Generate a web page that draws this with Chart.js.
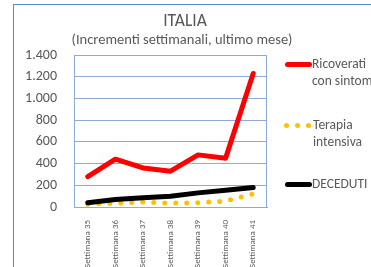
<!DOCTYPE html>
<html>
<head>
<meta charset="utf-8">
<script src="https://cdn.jsdelivr.net/npm/chart.js@4/dist/chart.umd.min.js"></script>
<style>
  html, body { margin: 0; padding: 0; background: #fff; overflow: hidden; }
  #wrap { position: relative; width: 371px; height: 267px; overflow: hidden; font-family: Carlito, Lato, sans-serif; color: #595959; }
  #frame { position: absolute; left: 13px; top: 4px; width: 400px; height: 300px; border-left: 1px solid #5b83d0; border-top: 1px solid #5b83d0; }
  canvas { position: absolute; left: 0; top: 0; }
  .txt { position: absolute; white-space: nowrap; }
  #title { left: 0; width: 370px; text-align: center; top: 9px; font-size: 17.5px; line-height: 22px; }
  #subtitle { left: 0; width: 364px; text-align: center; top: 30px; font-size: 14.5px; line-height: 18px; }
  .leg { position: absolute; left: 312px; font-size: 13.5px; line-height: 17px; white-space: nowrap; }
  .bar { position: absolute; height: 5px; border-radius: 3px; }
  .dot { position: absolute; width: 5px; height: 5px; border-radius: 50%; background: #ffc000; }
</style>
</head>
<body>
<div id="wrap">
  <div id="frame"></div>
  <canvas id="chart" width="371" height="267"></canvas>
  <div id="title" class="txt">ITALIA</div>
  <div id="subtitle" class="txt">(Incrementi settimanali, ultimo mese)</div>

  <div class="bar" style="left:285px; top:62px; width:27px; background:#ff0000;"></div>
  <div class="leg" style="top:55px;">Ricoverati<br>con sintomi</div>

  <div class="dot" style="left:284px; top:123px;"></div>
  <div class="dot" style="left:295px; top:123px;"></div>
  <div class="dot" style="left:306px; top:123px;"></div>
  <div class="leg" style="top:116px; left:313px;">Terapia<br>intensiva</div>

  <div class="bar" style="left:285px; top:182px; width:27px; background:#000000;"></div>
  <div class="leg" style="top:175px;">DECEDUTI</div>
</div>
<script>
const weeks = ['Settimana 35', 'Settimana 36', 'Settimana 37', 'Settimana 38', 'Settimana 39', 'Settimana 40', 'Settimana 41'];
const ricoverati = [280, 440, 360, 330, 480, 450, 1230];
const terapiaIntensiva = [25, 35, 45, 35, 40, 55, 120];
const deceduti = [40, 70, 85, 100, 130, 155, 180];
const yTicks = [0, 200, 400, 600, 800, 1000, 1200, 1400];

const gridBlue = '#8eaadb';
const textGrey = '#595959';

// plot frame (left and right border of the plot area)
const plotFrame = {
  id: 'plotFrame',
  beforeDatasetsDraw(chart) {
    const a = chart.chartArea;
    const ctx = chart.ctx;
    ctx.save();
    ctx.strokeStyle = gridBlue;
    ctx.lineWidth = 1;
    ctx.beginPath();
    ctx.moveTo(Math.round(a.left) + 0.5, a.top);
    ctx.lineTo(Math.round(a.left) + 0.5, a.bottom);
    ctx.moveTo(Math.round(a.right) - 0.5, a.top);
    ctx.lineTo(Math.round(a.right) - 0.5, a.bottom);
    ctx.stroke();
    ctx.restore();
  }
};

function formatIt(v) {
  return String(v).replace(/\B(?=(\d{3})+(?!\d))/g, '.');
}

new Chart(document.getElementById('chart'), {
  type: 'line',
  data: {
    labels: weeks,
    datasets: [{
      label: 'Ricoverati con sintomi',
      data: ricoverati,
      borderColor: '#ff0000',
      borderWidth: 5,
      borderCapStyle: 'round',
      borderJoinStyle: 'round',
      pointRadius: 0,
      order: 1
    }, {
      label: 'Terapia intensiva',
      data: terapiaIntensiva,
      borderColor: '#ffc000',
      borderWidth: 5,
      borderDash: [0, 11],
      borderCapStyle: 'round',
      pointRadius: 0,
      order: 2
    }, {
      label: 'DECEDUTI',
      data: deceduti,
      borderColor: '#000000',
      borderWidth: 5,
      borderCapStyle: 'round',
      borderJoinStyle: 'round',
      pointRadius: 0,
      order: 0
    }]
  },
  options: {
    responsive: false,
    animation: false,
    layout: { padding: { left: 13, right: 104, top: 55, bottom: 0 } },
    plugins: {
      legend: { display: false },
      title: { display: false },
      tooltip: { enabled: false }
    },
    scales: {
      x: {
        offset: true,
        grid: { display: false },
        border: { display: true, color: gridBlue, width: 1 },
        ticks: {
          color: textGrey,
          font: { family: 'Carlito, Lato, sans-serif', size: 9 },
          minRotation: 90,
          maxRotation: 90,
          padding: 5,
          autoSkip: false
        },
        afterFit(scale) { scale.height = 60; }
      },
      y: {
        min: 0,
        max: 1400,
        afterBuildTicks(scale) { scale.ticks = yTicks.map(v => ({ value: v })); },
        grid: { color: gridBlue, lineWidth: 1, drawTicks: false },
        border: { display: false },
        ticks: {
          color: textGrey,
          font: { family: 'Carlito, Lato, sans-serif', size: 14 },
          padding: 17,
          callback: v => formatIt(v)
        },
        afterFit(scale) { scale.width = 61; }
      }
    }
  },
  plugins: [plotFrame]
});
</script>
</body>
</html>
